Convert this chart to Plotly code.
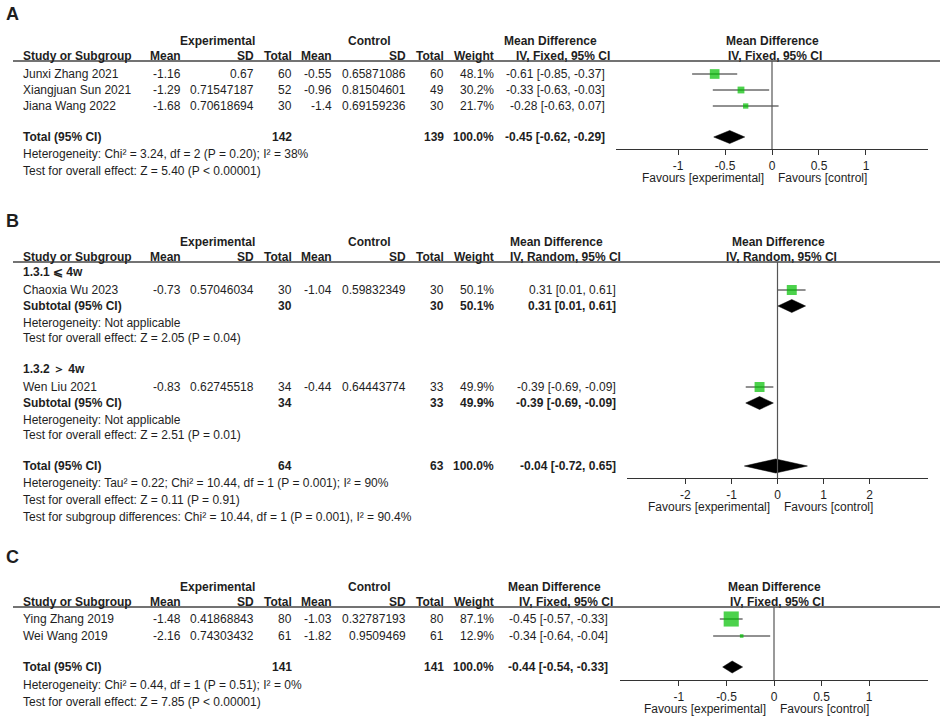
import plotly.graph_objects as go

W, H = 941, 719
INK = "#1e1e1e"
GREEN = "#00bf00"
FONT = "Liberation Sans, Arial, sans-serif"

# ---------------- panel A ----------------
studies_a = ["Junxi Zhang 2021", "Xiangjuan Sun 2021", "Jiana Wang 2022"]
exp_mean_a = [-1.16, -1.29, -1.68]
exp_sd_a = [0.67, 0.71547187, 0.70618694]
exp_n_a = [60, 52, 30]
ctl_mean_a = [-0.55, -0.96, -1.4]
ctl_sd_a = [0.65871086, 0.81504601, 0.69159236]
ctl_n_a = [60, 49, 30]
weight_a = [48.1, 30.2, 21.7]
md_a = [-0.61, -0.33, -0.28]
lo_a = [-0.85, -0.63, -0.63]
hi_a = [-0.37, -0.03, 0.07]
total_n_a = [142, 139]
total_md_a = [-0.45, -0.62, -0.29]
notes_a = ["Heterogeneity: Chi² = 3.24, df = 2 (P = 0.20); I² = 38%",
           "Test for overall effect: Z = 5.40 (P < 0.00001)"]
ticks_a = [-1, -0.5, 0, 0.5, 1]

# ---------------- panel B ----------------
groups_b = ["1.3.1 ⩽ 4w", "1.3.2 ＞ 4w"]
studies_b = ["Chaoxia Wu 2023", "Wen Liu 2021"]
exp_mean_b = [-0.73, -0.83]
exp_sd_b = [0.57046034, 0.62745518]
exp_n_b = [30, 34]
ctl_mean_b = [-1.04, -0.44]
ctl_sd_b = [0.59832349, 0.64443774]
ctl_n_b = [30, 33]
weight_b = [50.1, 49.9]
md_b = [0.31, -0.39]
lo_b = [0.01, -0.69]
hi_b = [0.61, -0.09]
group_notes_b = [["Heterogeneity: Not applicable", "Test for overall effect: Z = 2.05 (P = 0.04)"],
                 ["Heterogeneity: Not applicable", "Test for overall effect: Z = 2.51 (P = 0.01)"]]
total_n_b = [64, 63]
total_md_b = [-0.04, -0.72, 0.65]
notes_b = ["Heterogeneity: Tau² = 0.22; Chi² = 10.44, df = 1 (P = 0.001); I² = 90%",
           "Test for overall effect: Z = 0.11 (P = 0.91)",
           "Test for subgroup differences: Chi² = 10.44, df = 1 (P = 0.001), I² = 90.4%"]
ticks_b = [-2, -1, 0, 1, 2]

# ---------------- panel C ----------------
studies_c = ["Ying Zhang 2019", "Wei Wang 2019"]
exp_mean_c = [-1.48, -2.16]
exp_sd_c = [0.41868843, 0.74303432]
exp_n_c = [80, 61]
ctl_mean_c = [-1.03, -1.82]
ctl_sd_c = [0.32787193, 0.9509469]
ctl_n_c = [80, 61]
weight_c = [87.1, 12.9]
md_c = [-0.45, -0.34]
lo_c = [-0.57, -0.64]
hi_c = [-0.33, -0.04]
total_n_c = [141, 141]
total_md_c = [-0.44, -0.54, -0.33]
notes_c = ["Heterogeneity: Chi² = 0.44, df = 1 (P = 0.51); I² = 0%",
           "Test for overall effect: Z = 7.85 (P < 0.00001)"]
ticks_c = [-1, -0.5, 0, 0.5, 1]


def fx(p):
    return p / W


def fy(p):
    return 1 - p / H


annotations = []
shapes = []


def txt(x, y, s, anchor="left", bold=False, size=12):
    annotations.append(dict(x=fx(x), y=fy(y), xref="paper", yref="paper",
                            text=f"<b>{s}</b>" if bold else s, showarrow=False,
                            xanchor=anchor, yanchor="middle", borderpad=0,
                            font=dict(size=size, color=INK, family=FONT)))


def ci_text(md, lo, hi):
    return f"{md:.2f} [{lo:.2f}, {hi:.2f}]"


# column right edges (px)
C_STUDY, C_EM, C_ESD, C_EN, C_CM, C_CSD, C_CN, C_WT = 22, 182, 255, 293, 333, 407, 445, 495


def header(y1, method, ci_right, md_c, zero_px):
    y2 = y1 + 15
    txt(217, y1, "Experimental", "center", True)
    txt(369, y1, "Control", "center", True)
    txt(C_STUDY, y2, "Study or Subgroup", "left", True)
    for x, s in [(C_EM, "Mean"), (C_ESD, "SD"), (C_EN, "Total"), (C_CM, "Mean"),
                 (C_CSD, "SD"), (C_CN, "Total"), (C_WT, "Weight")]:
        txt(x, y2, s, "right", True)
    txt(md_c, y1, "Mean Difference", "center", True)
    txt(ci_right + 5, y2, f"IV, {method}, 95% CI", "right", True)
    txt(zero_px, y1, "Mean Difference", "center", True)
    txt(zero_px + 3, y2, f"IV, {method}, 95% CI", "center", True)
    shapes.append(dict(type="line", xref="paper", yref="paper", x0=fx(13), x1=fx(940),
                       y0=fy(y2 + 5), y1=fy(y2 + 5), line=dict(color="#444", width=1.5)))
    return y2 + 5


def study_row(y, name, em, esd, en, cm, csd, cn, w, md, lo, hi, ci_right):
    txt(C_STUDY, y, name)
    for x, v in [(C_EM, em), (C_ESD, esd), (C_EN, en), (C_CM, cm), (C_CSD, csd), (C_CN, cn)]:
        txt(x, y, str(v), "right")
    txt(C_WT, y, f"{w:.1f}%", "right")
    txt(ci_right, y, ci_text(md, lo, hi), "right")


def total_row(y, label, ne, nc, w, md, lo, hi, ci_right):
    txt(C_STUDY, y, label, "left", True)
    txt(C_EN, y, str(ne), "right", True)
    txt(C_CN, y, str(nc), "right", True)
    txt(C_WT, y, f"{w:.1f}%", "right", True)
    txt(ci_right, y, ci_text(md, lo, hi), "right", True)


fig = go.Figure()


def forest_axis(i, x0, x1, rng, axis_y, top_y, ticks, zero_px):
    sfx = "" if i == 1 else str(i)
    fig.update_layout(**{
        f"xaxis{sfx}": dict(domain=[fx(x0), fx(x1)], range=[-rng, rng], anchor=f"y{sfx}",
                            showline=True, linecolor="#333", linewidth=1.3, showgrid=False,
                            zeroline=False, ticks="outside", ticklen=5, tickwidth=1.3,
                            tickcolor="#333", tickvals=ticks, ticktext=[f"{t:g}" for t in ticks],
                            tickfont=dict(size=12, color=INK, family=FONT), fixedrange=True),
        f"yaxis{sfx}": dict(domain=[fy(axis_y), fy(top_y)], range=[axis_y, top_y],
                            anchor=f"x{sfx}", visible=False, showgrid=False, fixedrange=True),
    })
    shapes.append(dict(type="line", xref=f"x{sfx}", yref=f"y{sfx}", x0=0, x1=0,
                       y0=axis_y, y1=top_y, line=dict(color="#555", width=1.2)))
    fav_y = axis_y + 29
    txt(zero_px - 7, fav_y, "Favours [experimental]", "right")
    txt(zero_px + 5, fav_y, "Favours [control]", "left")


def squares(i, ys, md, lo, hi, w):
    sfx = "" if i == 1 else str(i)
    fig.add_trace(go.Scatter(
        x=md, y=ys, xaxis=f"x{sfx}", yaxis=f"y{sfx}", mode="markers",
        marker=dict(symbol="square", color=GREEN, size=[0.53 * v ** 0.75 for v in w],
                    line=dict(width=0)),
        error_x=dict(type="data", symmetric=False,
                     array=[h - m for h, m in zip(hi, md)],
                     arrayminus=[m - l for m, l in zip(md, lo)],
                     color="#222", thickness=1, width=0),
        showlegend=False, hoverinfo="skip"))


def diamond(i, y, md, lo, hi, half=6.5):
    sfx = "" if i == 1 else str(i)
    fig.add_trace(go.Scatter(
        x=[lo, md, hi, md, lo], y=[y, y - half, y, y + half, y], xaxis=f"x{sfx}", yaxis=f"y{sfx}",
        mode="lines", fill="toself", fillcolor="black", line=dict(color="black", width=0.5),
        showlegend=False, hoverinfo="skip"))


# ================= A =================
txt(5, 14, "A", "left", True, 18)
top_a = header(41, "Fixed", 606, 550, 772)
rows_a = [74, 90, 106]
for k, y in enumerate(rows_a):
    study_row(y, studies_a[k], exp_mean_a[k], exp_sd_a[k], exp_n_a[k], ctl_mean_a[k],
              ctl_sd_a[k], ctl_n_a[k], weight_a[k], md_a[k], lo_a[k], hi_a[k], 606)
total_row(137, "Total (95% CI)", total_n_a[0], total_n_a[1], sum(weight_a), *total_md_a, 606)
for k, s in enumerate(notes_a):
    txt(C_STUDY, 154 + 17 * k, s)
forest_axis(1, 616, 928, 1.66, 149, top_a, ticks_a, 772)
squares(1, rows_a, md_a, lo_a, hi_a, weight_a)
diamond(1, 137, *total_md_a)

# ================= B =================
txt(5, 221, "B", "left", True, 18)
top_b = header(242, "Random", 617, 556, 778)
group_y_b = [272, 369]
for g in range(2):
    y0 = group_y_b[g]
    txt(C_STUDY, y0, groups_b[g], "left", True)
    study_row(y0 + 18, studies_b[g], exp_mean_b[g], exp_sd_b[g], exp_n_b[g], ctl_mean_b[g],
              ctl_sd_b[g], ctl_n_b[g], weight_b[g], md_b[g], lo_b[g], hi_b[g], 617)
    total_row(y0 + 34, "Subtotal (95% CI)", exp_n_b[g], ctl_n_b[g], weight_b[g],
              md_b[g], lo_b[g], hi_b[g], 617)
    for k, s in enumerate(group_notes_b[g]):
        txt(C_STUDY, y0 + 51 + 15 * k, s)
total_row(466, "Total (95% CI)", total_n_b[0], total_n_b[1], sum(weight_b), *total_md_b, 617)
for k, s in enumerate(notes_b):
    txt(C_STUDY, 483 + 17 * k, s)
forest_axis(2, 627, 928, 3.27, 478, top_b, ticks_b, 778)
squares(2, [y + 18 for y in group_y_b], md_b, lo_b, hi_b, weight_b)
for g in range(2):
    diamond(2, group_y_b[g] + 34, md_b[g], lo_b[g], hi_b[g])
diamond(2, 466, *total_md_b, half=7)

# ================= C =================
txt(5, 557, "C", "left", True, 18)
top_c = header(587, "Fixed", 609, 554, 774)
rows_c = [619, 636]
for k, y in enumerate(rows_c):
    study_row(y, studies_c[k], exp_mean_c[k], exp_sd_c[k], exp_n_c[k], ctl_mean_c[k],
              ctl_sd_c[k], ctl_n_c[k], weight_c[k], md_c[k], lo_c[k], hi_c[k], 609)
total_row(667, "Total (95% CI)", total_n_c[0], total_n_c[1], sum(weight_c), *total_md_c, 609)
for k, s in enumerate(notes_c):
    txt(C_STUDY, 685 + 17 * k, s)
forest_axis(3, 620, 928, 1.62, 680, top_c, ticks_c, 774)
squares(3, rows_c, md_c, lo_c, hi_c, weight_c)
diamond(3, 667, *total_md_c, half=6)

fig.update_layout(width=W, height=H, margin=dict(l=0, r=0, t=0, b=0),
                  paper_bgcolor="white", plot_bgcolor="white",
                  font=dict(family=FONT, size=12, color=INK),
                  annotations=annotations, shapes=shapes, showlegend=False)

# drop the browser's default 8px body margin so the figure sits at the window corner
fig.write_html("out.html", config={"displayModeBar": False},
               post_script="document.body.style.margin='0px';")
